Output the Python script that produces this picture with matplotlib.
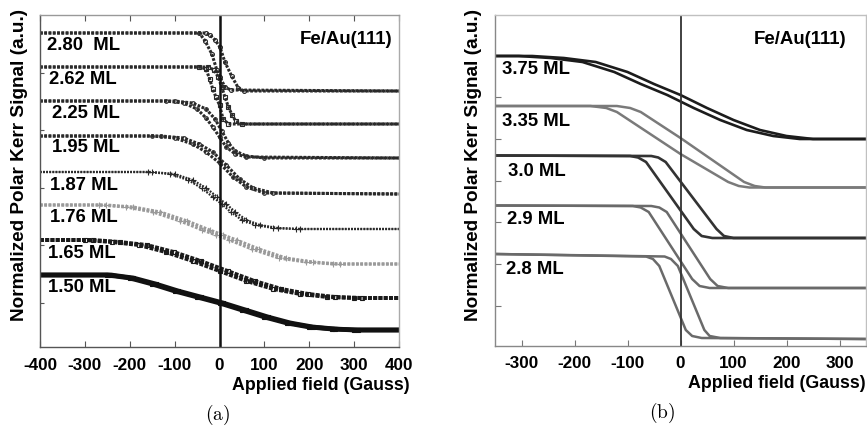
import matplotlib
matplotlib.use("Agg")
import matplotlib.pyplot as plt

plt.rcParams['font.family'] = ['Liberation Sans', 'DejaVu Sans']
plt.rcParams['mathtext.fontset'] = 'cm'

# ---------------- Panel (a): measured loops (field in Gauss, signal a.u.) ----------------
labels_a = ["2.80  ML", "2.62 ML", "2.25 ML", "1.95 ML", "1.87 ML", "1.76 ML", "1.65 ML", "1.50 ML"]

f280_a = [-400, -45, -32, -17, -6, 1, 12, 25, 400]
s280_a = [314, 314, 306, 293, 277, 270, 260, 257, 256]
f280_b = [-400, -30, -21, -10, 1, 12, 27, 42, 55, 400]
s280_b = [314, 314, 312, 307, 300, 285, 271, 259, 256, 256]

f262_a = [-400, -45, -30, -22, -15, -8, 0, 8, 20, 400]
s262_a = [280, 280, 278, 268, 258, 250, 242, 228, 223, 223]
f262_b = [-400, -25, -12, -3, 5, 12, 20, 28, 36, 50, 400]
s262_b = [280, 280, 277, 270, 260, 250, 240, 232, 226, 223, 223]

f225_a = [-400, -120, -80, -50, -30, -15, 0, 15, 35, 60, 400]
s225_a = [246, 246, 244, 238, 229, 220, 210, 200, 193, 190, 189]
f225_b = [-400, -100, -60, -30, -10, 5, 20, 35, 60, 100, 400]
s225_b = [246, 246, 244, 238, 228, 216, 204, 196, 191, 189, 189]

f195_a = [-400, -150, -100, -60, -30, 0, 30, 60, 100, 400]
s195_a = [211, 211, 209, 203, 195, 184, 170, 160, 154, 153]
f195_b = [-400, -130, -80, -45, -15, 15, 45, 75, 120, 400]
s195_b = [211, 211, 209, 203, 195, 182, 168, 159, 154, 153]

f187_a = [-400, -160, -110, -70, -40, -15, 5, 25, 50, 80, 120, 170, 400]
s187_a = [175, 175, 173, 167, 159, 150, 143, 135, 127, 122, 119, 118, 118]
f187_b = [-400, -150, -100, -60, -30, -5, 15, 35, 60, 90, 130, 180, 400]
s187_b = [175, 175, 173, 167, 159, 150, 143, 135, 127, 122, 119, 118, 118]

f176_a = [-400, -268, -208, -148, -88, -38, -8, 22, 72, 132, 192, 252, 400]
s176_a = [142, 142, 140, 135, 126, 117, 112, 107, 98, 89, 85, 83, 83]
f176_b = [-400, -252, -192, -132, -72, -22, 8, 38, 88, 148, 208, 268, 400]
s176_b = [142, 142, 140, 135, 126, 117, 112, 107, 98, 89, 85, 83, 83]

f165_a = [-400, -300, -240, -180, -120, -60, 0, 60, 120, 180, 240, 300, 400]
s165_a = [107, 107, 105, 102, 95, 86, 76, 66, 58, 53, 50, 49, 49]
f165_b = [-400, -282, -222, -162, -102, -42, 18, 78, 138, 198, 258, 318, 400]
s165_b = [107, 107, 105, 102, 95, 86, 76, 66, 58, 53, 50, 49, 49]

f150_a = [-400, -250, -200, -150, -100, -50, 0, 50, 100, 150, 200, 250, 300, 400]
s150_a = [72, 72, 69, 63, 56, 50, 44, 37, 30, 24, 20, 18, 17, 17]
f150_b = [-400, -242, -192, -142, -92, -42, 8, 58, 108, 158, 208, 258, 308, 400]
s150_b = [72, 72, 69, 63, 56, 50, 44, 37, 30, 24, 20, 18, 17, 17]

# ---------------- Panel (b): simulated loops ----------------
labels_b = ["3.75 ML", "3.35 ML", "3.0 ML", "2.9 ML", "2.8 ML"]

f375_a = [-350, -305, -245, -185, -125, -75, -25, 25, 75, 125, 175, 225, 350]
s375_a = [290, 290, 288, 284, 274, 262, 251, 238, 226, 216, 210, 207, 207]
f375_b = [-350, -280, -220, -160, -100, -50, 0, 50, 100, 150, 200, 250, 350]
s375_b = [290, 290, 288, 284, 274, 262, 251, 238, 226, 216, 210, 207, 207]

f335_a = [-350, -170, -140, -120, 0, 90, 110, 130, 350]
s335_a = [240, 240, 238, 234, 192, 164, 160, 158.5, 158.5]
f335_b = [-350, -120, -95, -75, 0, 120, 140, 160, 350]
s335_b = [240, 240, 238, 234, 208, 164, 160, 158.5, 158.5]

f30_a = [-350, -95, -80, -65, 25, 40, 60, 350]
s30_a = [190.5, 190, 188.5, 184, 117, 110, 108, 108]
f30_b = [-350, -55, -42, -28, 68, 82, 100, 350]
s30_b = [190.5, 190, 188.5, 184, 117, 110, 108, 108]

f29_a = [-350, -90, -75, -60, 22, 36, 55, 350]
s29_a = [140.5, 140, 138.5, 134, 67, 60, 58, 58]
f29_b = [-350, -55, -40, -26, 56, 70, 90, 350]
s29_b = [140.5, 140, 138.5, 134, 67, 60, 58, 58]

f28_a = [-350, -65, -52, -40, 10, 22, 40, 350]
s28_a = [92, 89.5, 87, 80, 16, 10, 8, 7]
f28_b = [-350, -30, -18, -5, 45, 55, 75, 350]
s28_b = [92, 89.5, 87, 80, 16, 10, 8, 7]

xticks_a = [-400, -300, -200, -100, 0, 100, 200, 300, 400]
xticks_b = [-300, -200, -100, 0, 100, 200, 300]

# ---------------- figure ----------------
fig = plt.figure(figsize=(8.67, 4.33), dpi=100)
axA = fig.add_axes([40 / 867, 86 / 433, 359 / 867, 332 / 433])
axB = fig.add_axes([495 / 867, 87 / 433, 371 / 867, 331 / 433])

# (marker, colour, line width, dash pattern, marker size, marker face)
curves_a = [
    (f280_a, s280_a, f280_b, s280_b, 'o', '#2a2a2a', 2.2, (0, (0.9, 0.5)), 2.8, 'none'),
    (f262_a, s262_a, f262_b, s262_b, 's', '#2a2a2a', 2.2, (0, (0.9, 0.5)), 3.0, 'none'),
    (f225_a, s225_a, f225_b, s225_b, 'o', '#2a2a2a', 2.2, (0, (0.9, 0.5)), 2.6, 'none'),
    (f195_a, s195_a, f195_b, s195_b, 'o', '#2a2a2a', 2.2, (0, (0.9, 0.5)), 2.6, 'none'),
    (f187_a, s187_a, f187_b, s187_b, '+', '#2a2a2a', 1.6, (0, (0.8, 0.6)), 3.8, 'none'),
    (f176_a, s176_a, f176_b, s176_b, '+', '#9a9a9a', 2.2, (0, (0.9, 0.5)), 3.8, 'none'),
    (f165_a, s165_a, f165_b, s165_b, 's', '#1a1a1a', 2.8, (0, (1.0, 0.35)), 3.0, 'none'),
    (f150_a, s150_a, f150_b, s150_b, 's', '#111111', 3.4, '-', 3.5, '#111111'),
]
for fa, sa, fb, sb, mk, col, lw, ls, ms, mfc in curves_a:
    for f, s in ((fa, sa), (fb, sb)):
        axA.plot(f, s, color=col, lw=lw, linestyle=ls, solid_capstyle='butt')
        axA.plot(f[1:-1], s[1:-1], linestyle='none', marker=mk, ms=ms, mfc=mfc,
                 mec=col, mew=0.8)

axA.axvline(0, color='#111111', lw=1.8)
axA.set_xlim(-400, 400)
axA.set_ylim(0, 332)
axA.set_xticks(xticks_a)
axA.set_xticklabels([str(t) for t in xticks_a], fontsize=12.3, fontweight='bold')
axA.set_yticks([44, 102, 159, 217, 274])
axA.set_yticklabels([])
axA.tick_params(axis='x', direction='in', length=4, top=True, width=0.8, color='#555555', pad=8)
axA.tick_params(axis='y', direction='in', length=3, width=0.8, color='#555555')
for side, c in (('left', '#555555'), ('bottom', '#555555'), ('top', '#999999'), ('right', '#aaaaaa')):
    axA.spines[side].set_color(c)
    axA.spines[side].set_linewidth(1.0)

label_y_a = [46, 80, 114, 148, 185, 218, 253, 288]
label_x_a = [47, 49, 52, 52, 50, 50, 48, 48]
for lab, px, py in zip(labels_a, label_x_a, label_y_a):
    fig.text(px / 867, 1 - py / 433, lab, fontsize=13.3, fontweight='bold', ha='left', va='center')

fig.text(392 / 867, 1 - 40 / 433, "Fe/Au(111)", fontsize=13.4, fontweight='bold', ha='right', va='center')

curves_b = [
    (f375_a, s375_a, f375_b, s375_b, '#1c1c1c', 1.9),
    (f335_a, s335_a, f335_b, s335_b, '#7a7a7a', 1.8),
    (f30_a, s30_a, f30_b, s30_b, '#333333', 1.9),
    (f29_a, s29_a, f29_b, s29_b, '#6a6a6a', 1.8),
    (f28_a, s28_a, f28_b, s28_b, '#6a6a6a', 1.8),
]
for fa, sa, fb, sb, col, lw in curves_b:
    axB.plot(fa, sa, color=col, lw=lw)
    axB.plot(fb, sb, color=col, lw=lw)

axB.axvline(0, color='#333333', lw=1.3)
axB.set_xlim(-350, 350)
axB.set_ylim(0, 331)
axB.set_xticks(xticks_b)
axB.set_xticklabels([str(t) for t in xticks_b], fontsize=12.3, fontweight='bold')
axB.set_yticks([40, 82, 124, 165, 207, 249])
axB.set_yticklabels([])
axB.tick_params(axis='x', direction='in', length=4, width=0.8, color='#777777', pad=7)
axB.tick_params(axis='y', direction='in', length=4, width=0.8, color='#777777')
for side, c in (('left', '#888888'), ('bottom', '#888888'), ('top', '#c0c0c0'), ('right', '#c0c0c0')):
    axB.spines[side].set_color(c)
    axB.spines[side].set_linewidth(1.0)

label_y_b = [70, 122, 172, 219, 269]
label_x_b = [502, 502, 508, 507, 506]
for lab, px, py in zip(labels_b, label_x_b, label_y_b):
    fig.text(px / 867, 1 - py / 433, lab, fontsize=13.3, fontweight='bold', ha='left', va='center')

fig.text(846 / 867, 1 - 40 / 433, "Fe/Au(111)", fontsize=13.4, fontweight='bold', ha='right', va='center')

# axis titles
for xc in (20, 473):
    fig.text(xc / 867, 1 - 165 / 433, "Normalized Polar Kerr Signal (a.u.)", rotation=90,
             fontsize=13.7, fontweight='bold', ha='center', va='center')
fig.text(410 / 867, 1 - 385 / 433, "Applied field (Gauss)", fontsize=12.8, fontweight='bold',
         ha='right', va='center')
fig.text(866 / 867, 1 - 384 / 433, "Applied field (Gauss)", fontsize=12.8, fontweight='bold',
         ha='right', va='center')

fig.text(218 / 867, 1 - 415 / 433, r"$\mathrm{(a)}$", fontsize=14, ha='center', va='center')
fig.text(662 / 867, 1 - 413 / 433, r"$\mathrm{(b)}$", fontsize=14, ha='center', va='center')

fig.savefig("out.png", dpi=100)
